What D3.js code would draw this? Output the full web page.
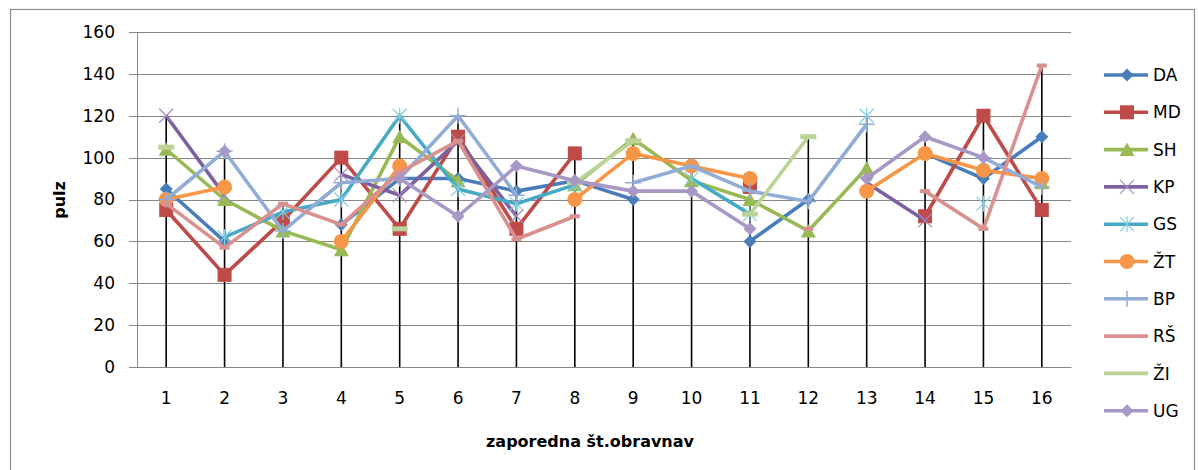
<!DOCTYPE html>
<html>
<head>
<meta charset="utf-8">
<script src="https://cdn.jsdelivr.net/npm/d3@7"></script>
<style>
  html, body { margin: 0; padding: 0; background: #fff; }
  svg { display: block; }
  text { font-family: "DejaVu Sans", sans-serif; }
</style>
</head>
<body>
<svg id="chart" width="1198" height="470"></svg>
<script>
// ---- data ----
const categories = ["1","2","3","4","5","6","7","8","9","10","11","12","13","14","15","16"];
const yTicks = [0, 20, 40, 60, 80, 100, 120, 140, 160];
const seriesNames = ["DA","MD","SH","KP","GS","ŽT","BP","RŠ","ŽI","UG"];
const DA = [85, 60, null, 68, 90, 90, 84, 89, 80, null, 60, 80, null, 102, 90, 110];
const MD = [75, 44, 70, 100, 66, 110, 66, 102, null, null, 86, null, null, 72, 120, 75];
const SH = [104, 80, 65, 56, 110, 89, null, 87, 109, 89, 80, 65, 95, null, null, 88];
const KP = [120, 82, null, 92, 82, 108, 72, null, null, null, null, null, 88, 70, null, null];
const GS = [null, 62, 74, 80, 120, 85, 78, 87, null, 90, 73, null, 120, null, 78, null];
const ZT = [80, 86, null, 60, 96, null, null, 80, 102, 96, 90, null, 84, 102, 94, 90];
const BP = [80, 103, 65, 88, 90, 120, 82, null, 88, 96, 84, 79, 116, null, 100, 86];
const RS = [78, 57, 78, 68, 93, 108, 61, 72, null, null, null, 66, null, 84, 66, 144];
const ZI = [105, null, null, null, 66, null, null, 88, 108, null, 73, 110, null, null, null, null];
const UG = [null, 103, null, null, 90, 72, 96, 89, 84, 84, 66, null, 90, 110, 100, null];
const seriesValues = [DA, MD, SH, KP, GS, ZT, BP, RS, ZI, UG];
const seriesColors = ["#4A7EBB","#BE4B48","#98B954","#7D60A0","#46AAC5","#F79646","#91ADD6","#D9908E","#BBD396","#A898C5"];
const markerColors = ["#4A7EBB","#BE4B48","#98B954","#A08BC0","#7FCDE0","#F79646","#91ADD6","#D9908E","#BBD396","#A898C5"];
const markerTypes = ["diamond","square","triangle","x","asterisk","circle","plus","dashS","dashL","diamond"];

// ---- layout ----
const svg = d3.select("#chart");
const plot = { left: 137, right: 1071, top: 32, bottom: 367 };

const x = d3.scaleBand().domain(categories).range([plot.left, plot.right]).padding(0);
const cx = c => x(c) + x.bandwidth() / 2;
const y = d3.scaleLinear().domain([0, 160]).range([plot.bottom, plot.top]);

// outer frame
svg.append("rect").attr("x", 10.5).attr("y", 9.5).attr("width", 1184).attr("height", 480)
  .attr("fill", "none").attr("stroke", "#8c8c8c").attr("stroke-width", 1.2);

// title (cut off at the top edge in the original, only descenders show)
svg.append("text").attr("x", 58).attr("y", -5)
  .attr("font-size", 24).attr("font-weight", "bold").attr("fill", "#000")
  .text("Meritve pulza po terapiji");

// gridlines
svg.append("g").selectAll("line").data(yTicks).join("line")
  .attr("x1", plot.left - 8).attr("x2", plot.right)
  .attr("y1", d => Math.round(y(d)) + 0.5).attr("y2", d => Math.round(y(d)) + 0.5)
  .attr("stroke", "#868686").attr("stroke-width", 1);

// y axis
const yAxis = d3.axisLeft(y).tickValues(yTicks).tickSize(0).tickPadding(22);
const gy = svg.append("g").attr("transform", `translate(${plot.left},0)`).call(yAxis);
gy.select(".domain").attr("stroke", "#868686");
gy.selectAll("text").attr("font-size", 17).attr("fill", "#000").attr("font-family", "DejaVu Sans");

// x axis
const xAxis = d3.axisBottom(x).tickSize(0).tickPadding(25);
const gx = svg.append("g").attr("transform", `translate(0,${plot.bottom})`).call(xAxis);
gx.select(".domain").attr("stroke", "#868686");
gx.selectAll("text").attr("font-size", 17).attr("fill", "#000").attr("font-family", "DejaVu Sans");

// axis titles
svg.append("text").attr("x", 590).attr("y", 447).attr("text-anchor", "middle")
  .attr("font-size", 16).attr("font-weight", "bold").text("zaporedna št.obravnav");
svg.append("text").attr("transform", "translate(65,200) rotate(-90)").attr("text-anchor", "middle")
  .attr("font-size", 16).attr("font-weight", "bold").text("pulz");

// drop lines (from the highest value in each category down to the axis)
const maxima = categories.map((c, i) => d3.max(seriesValues, s => s[i]));
svg.append("g").selectAll("line").data(categories).join("line")
  .attr("x1", c => cx(c)).attr("x2", c => cx(c))
  .attr("y1", (c, i) => y(maxima[i])).attr("y2", y(0))
  .attr("stroke", "#000").attr("stroke-width", 1.6);

// marker drawing
function drawMarker(g, type, color, mcolor) {
  switch (type) {
    case "diamond":
      g.append("path").attr("d", "M0,-6.5L6.5,0L0,6.5L-6.5,0Z").attr("fill", color); break;
    case "square":
      g.append("rect").attr("x", -7).attr("y", -7).attr("width", 14).attr("height", 14).attr("fill", color); break;
    case "triangle":
      g.append("path").attr("d", "M0,-7L7.5,6.5L-7.5,6.5Z").attr("fill", color); break;
    case "x":
      g.append("path").attr("d", "M-7,-7L7,7M-7,7L7,-7").attr("stroke", mcolor).attr("stroke-width", 1.2).attr("fill", "none"); break;
    case "asterisk":
      g.append("path").attr("d", "M-7,-7L7,7M-7,7L7,-7M0,-8V8").attr("stroke", mcolor).attr("stroke-width", 1.2).attr("fill", "none"); break;
    case "circle":
      g.append("circle").attr("r", 7.5).attr("fill", color); break;
    case "plus":
      g.append("path").attr("d", "M-8,0H8M0,-8V8").attr("stroke", color).attr("stroke-width", 1.5).attr("fill", "none"); break;
    case "dashS":
      g.append("rect").attr("x", -5).attr("y", -2).attr("width", 10).attr("height", 4).attr("fill", color); break;
    case "dashL":
      g.append("rect").attr("x", -8).attr("y", -2.5).attr("width", 16).attr("height", 5).attr("fill", color); break;
  }
}

// series
const line = d3.line().defined(d => d.v != null).x(d => cx(d.c)).y(d => y(d.v));
seriesNames.forEach((name, si) => {
  const pts = categories.map((c, i) => ({ c, v: seriesValues[si][i] }));
  const g = svg.append("g");
  g.append("path").datum(pts).attr("d", line)
    .attr("fill", "none").attr("stroke", seriesColors[si]).attr("stroke-width", 3.6)
    .attr("stroke-linejoin", "round");
  pts.filter(d => d.v != null).forEach(d => {
    const m = g.append("g").attr("transform", `translate(${cx(d.c)},${y(d.v)})`);
    drawMarker(m, markerTypes[si], seriesColors[si], markerColors[si]);
  });
});

// legend
const legend = svg.append("g");
seriesNames.forEach((name, si) => {
  const ly = 75 + si * 37.3;
  const g = legend.append("g").attr("transform", `translate(0,${ly})`);
  g.append("line").attr("x1", 1104).attr("x2", 1148).attr("y1", 0).attr("y2", 0)
    .attr("stroke", seriesColors[si]).attr("stroke-width", 3.6);
  if (markerTypes[si] !== "dashS" && markerTypes[si] !== "dashL") {
    const m = g.append("g").attr("transform", "translate(1127,0)");
    drawMarker(m, markerTypes[si], seriesColors[si], markerColors[si]);
  }
  g.append("text").attr("x", 1153).attr("y", 0).attr("dy", "0.36em")
    .attr("font-size", 17).attr("fill", "#000").text(name);
});
</script>
</body>
</html>
